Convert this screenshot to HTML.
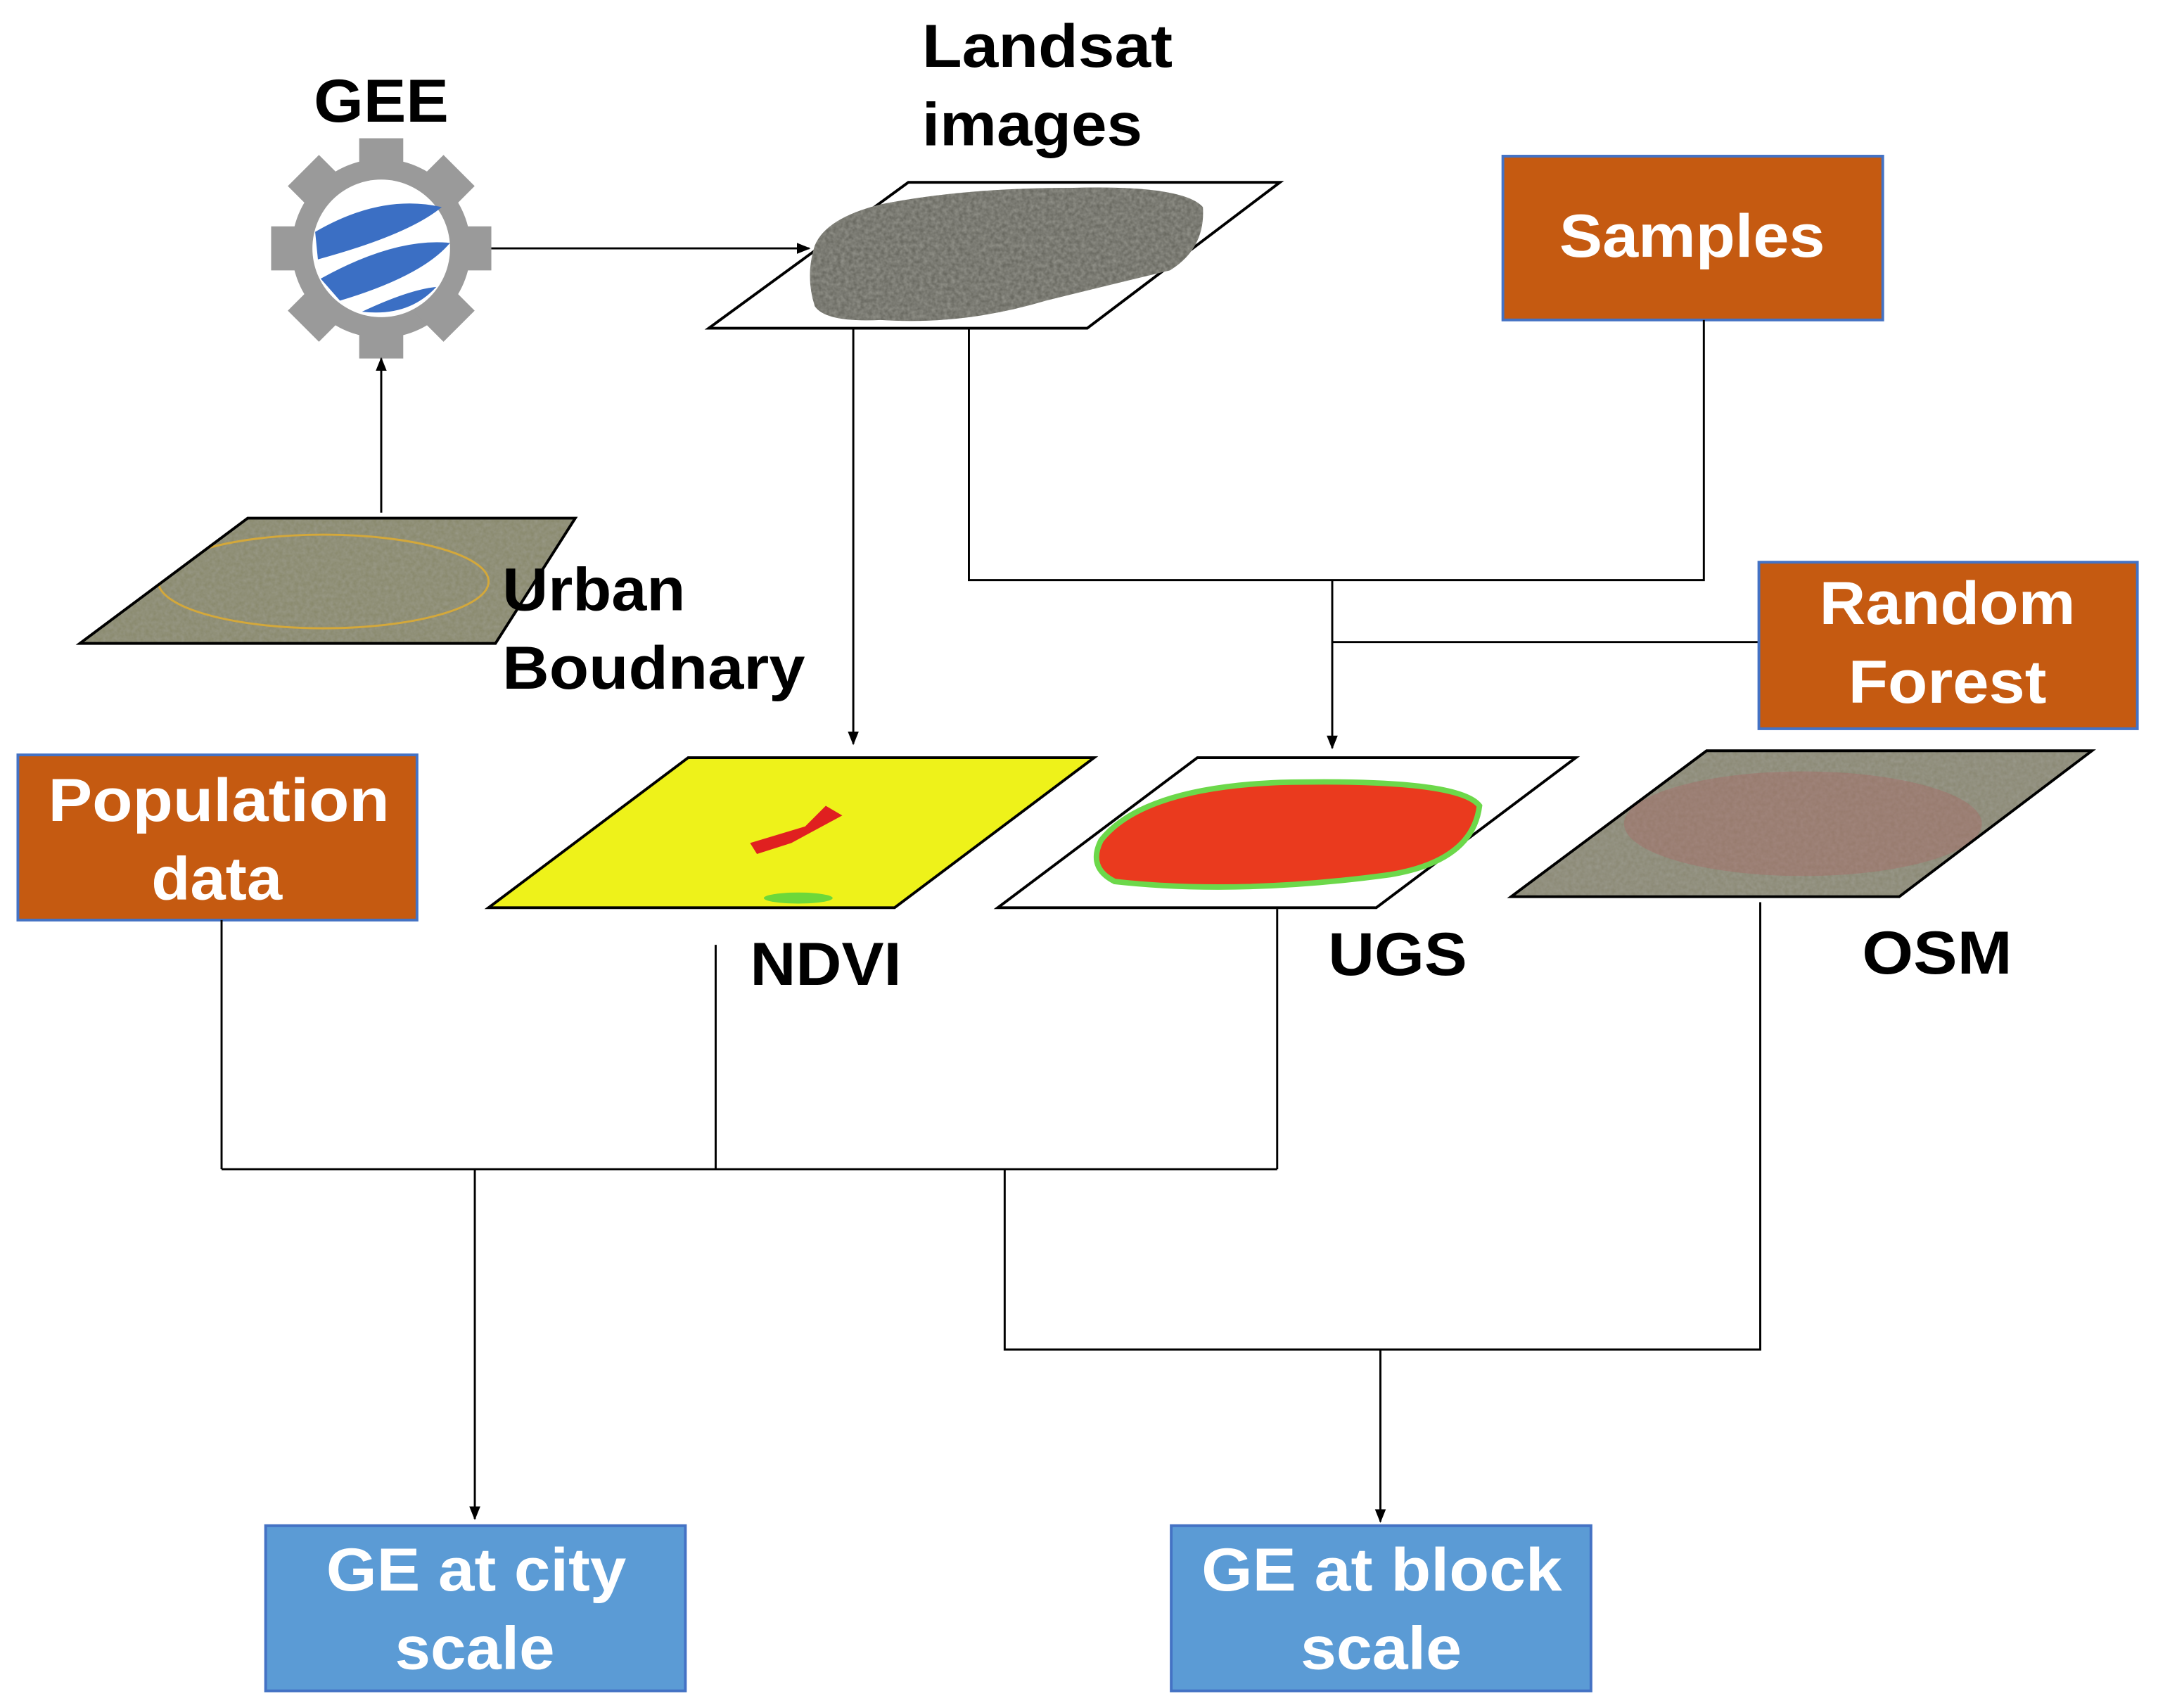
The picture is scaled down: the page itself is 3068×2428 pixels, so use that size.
<!DOCTYPE html>
<html><head><meta charset="utf-8"><style>
html,body{margin:0;padding:0;background:#fff;}
svg{display:block;}
text{font-family:"Liberation Sans",Arial,sans-serif;font-weight:bold;}
</style></head><body>
<svg width="3068" height="2428" viewBox="0 0 1568 1240" xmlns="http://www.w3.org/2000/svg">
<defs>
<marker id="ah" markerWidth="10" markerHeight="10" refX="9" refY="5" orient="auto" markerUnits="userSpaceOnUse">
<path d="M0,1 L10,5 L0,9 z" fill="#000"/></marker>
<filter id="noise" x="0" y="0" width="100%" height="100%">
<feTurbulence type="fractalNoise" baseFrequency="0.35" numOctaves="2" seed="3"/>
<feColorMatrix type="matrix" values="0 0 0 0 0.4  0 0 0 0 0.4  0 0 0 0 0.36  0 0 0 1.2 -0.2"/>
</filter>
<clipPath id="cUrb"><polygon points="58,467 360,467 418,376 180,376"/></clipPath>
<clipPath id="cOsm"><polygon points="1098,651 1380,651 1520,545 1240,545"/></clipPath>
<clipPath id="cLand"><path id="lb" d="M592,178 Q600,158 640,148 Q700,136 780,136 Q860,134 874,150 Q876,180 850,196 Q800,208 760,218 Q700,236 640,232 Q600,234 592,222 Q585,200 592,178 z"/></clipPath>
</defs>
<rect width="1568" height="1240" fill="#fff"/>

<!-- GEE -->
<text x="228" y="88" font-size="44" textLength="98" lengthAdjust="spacingAndGlyphs">GEE</text>
<g transform="translate(277,180)">
<g fill="#9a9a9a">
<circle r="65"/>
<rect x="-16" y="-80" width="32" height="30"/>
<rect x="-16" y="50" width="32" height="30"/>
<rect x="-80" y="-16" width="30" height="32"/>
<rect x="50" y="-16" width="30" height="32"/>
<rect x="-16" y="-80" width="32" height="30" transform="rotate(45)"/>
<rect x="-16" y="-80" width="32" height="30" transform="rotate(-45)"/>
<rect x="-16" y="-80" width="32" height="30" transform="rotate(135)"/>
<rect x="-16" y="-80" width="32" height="30" transform="rotate(-135)"/>
</g>
<circle r="50" fill="#fff"/>
<path d="M-48,-12 Q0,-40 44,-30 Q20,-10 -46,8 z" fill="#3b6fc4"/>
<path d="M-44,22 Q10,-8 50,-4 Q30,20 -30,38 z" fill="#3b6fc4"/>
<path d="M-14,46 Q20,30 40,28 Q20,50 -14,46 z" fill="#3b6fc4"/>
</g>
<line x1="357" y1="180" x2="588" y2="180" stroke="#000" stroke-width="1.5" marker-end="url(#ah)"/>

<!-- Landsat -->
<text x="670" y="48" font-size="44" textLength="182" lengthAdjust="spacingAndGlyphs">Landsat</text>
<text x="670" y="105" font-size="44" textLength="160" lengthAdjust="spacingAndGlyphs">images</text>
<polygon points="515,238 790,238 930,132 660,132" fill="#fff" stroke="#000" stroke-width="2"/>
<g clip-path="url(#cLand)">
<rect x="580" y="130" width="300" height="110" fill="#6a6a62"/>
<rect x="580" y="130" width="300" height="110" filter="url(#noise)" opacity="0.7"/>
</g>

<!-- Samples -->
<rect x="1092" y="113" width="276" height="119" fill="#c55a11" stroke="#4472c4" stroke-width="2"/>
<text x="1133" y="186" font-size="44" fill="#fff" textLength="193" lengthAdjust="spacingAndGlyphs">Samples</text>

<!-- Urban boundary -->
<polygon points="58,467 360,467 418,376 180,376" fill="#8a8a6e"/>
<g clip-path="url(#cUrb)"><rect x="50" y="370" width="380" height="100" filter="url(#noise)" opacity="0.5"/></g>
<ellipse cx="235" cy="422" rx="120" ry="34" fill="none" stroke="#d4a83a" stroke-width="1.5" clip-path="url(#cUrb)"/>
<polygon points="58,467 360,467 418,376 180,376" fill="none" stroke="#000" stroke-width="2"/>
<text x="365" y="443" font-size="44" textLength="133" lengthAdjust="spacingAndGlyphs">Urban</text>
<text x="365" y="500" font-size="44" textLength="220" lengthAdjust="spacingAndGlyphs">Boudnary</text>
<line x1="277" y1="372" x2="277" y2="260" stroke="#000" stroke-width="1.5" marker-end="url(#ah)"/>

<!-- connectors top -->
<line x1="620" y1="238" x2="620" y2="540" stroke="#000" stroke-width="1.5" marker-end="url(#ah)"/>
<polyline points="704,238 704,421 1238,421 1238,232" fill="none" stroke="#000" stroke-width="1.5"/>
<line x1="968" y1="421" x2="968" y2="543" stroke="#000" stroke-width="1.5" marker-end="url(#ah)"/>
<line x1="968" y1="466" x2="1278" y2="466" stroke="#000" stroke-width="1.5"/>

<!-- Random forest -->
<rect x="1278" y="408" width="275" height="121" fill="#c55a11" stroke="#4472c4" stroke-width="2"/>
<text x="1322" y="453" font-size="44" fill="#fff" textLength="186" lengthAdjust="spacingAndGlyphs">Random</text>
<text x="1343" y="510" font-size="44" fill="#fff" textLength="144" lengthAdjust="spacingAndGlyphs">Forest</text>

<!-- NDVI -->
<polygon points="355,659 650,659 795,550 500,550" fill="#eef21a" stroke="#000" stroke-width="2"/>
<path d="M545,612 L585,600 L600,585 L612,592 L575,612 L550,620 z" fill="#e02020"/>
<ellipse cx="580" cy="652" rx="25" ry="4" fill="#6dd83a"/>
<text x="545" y="715" font-size="44" textLength="110" lengthAdjust="spacingAndGlyphs">NDVI</text>

<!-- UGS -->
<polygon points="725,659 1000,659 1145,550 870,550" fill="#fff" stroke="#000" stroke-width="2"/>
<path d="M800,610 Q830,572 930,568 Q1060,565 1075,585 Q1070,625 1010,635 Q900,650 810,640 Q790,630 800,610 z" fill="#ea3a1e" stroke="#6cd84a" stroke-width="4"/>
<text x="965" y="708" font-size="44" textLength="101" lengthAdjust="spacingAndGlyphs">UGS</text>

<!-- OSM -->
<polygon points="1098,651 1380,651 1520,545 1240,545" fill="#8c8a76"/>
<g clip-path="url(#cOsm)"><rect x="1090" y="540" width="440" height="115" filter="url(#noise)" opacity="0.5"/>
<ellipse cx="1310" cy="598" rx="130" ry="38" fill="#b06060" opacity="0.35"/></g>
<polygon points="1098,651 1380,651 1520,545 1240,545" fill="none" stroke="#000" stroke-width="2"/>
<text x="1353" y="707" font-size="44" textLength="109" lengthAdjust="spacingAndGlyphs">OSM</text>

<!-- Population -->
<rect x="13" y="548" width="290" height="120" fill="#c55a11" stroke="#4472c4" stroke-width="2"/>
<text x="35" y="596" font-size="44" fill="#fff" textLength="248" lengthAdjust="spacingAndGlyphs">Population</text>
<text x="110" y="653" font-size="44" fill="#fff" textLength="95" lengthAdjust="spacingAndGlyphs">data</text>

<!-- bottom connectors -->
<g stroke="#000" stroke-width="1.5" fill="none">
<line x1="161" y1="668" x2="161" y2="849"/>
<line x1="520" y1="686" x2="520" y2="849"/>
<line x1="928" y1="660" x2="928" y2="849"/>
<line x1="161" y1="849" x2="928" y2="849"/>
<line x1="345" y1="849" x2="345" y2="1103" marker-end="url(#ah)"/>
<polyline points="730,849 730,980 1279,980 1279,655"/>
<line x1="1003" y1="980" x2="1003" y2="1105" marker-end="url(#ah)"/>
</g>

<!-- GE boxes -->
<rect x="193" y="1108" width="305" height="120" fill="#5b9bd5" stroke="#4472c4" stroke-width="2"/>
<text x="237" y="1155" font-size="44" fill="#fff" textLength="218" lengthAdjust="spacingAndGlyphs">GE at city</text>
<text x="287" y="1212" font-size="44" fill="#fff" textLength="116" lengthAdjust="spacingAndGlyphs">scale</text>
<rect x="851" y="1108" width="305" height="120" fill="#5b9bd5" stroke="#4472c4" stroke-width="2"/>
<text x="873" y="1155" font-size="44" fill="#fff" textLength="262" lengthAdjust="spacingAndGlyphs">GE at block</text>
<text x="945" y="1212" font-size="44" fill="#fff" textLength="117" lengthAdjust="spacingAndGlyphs">scale</text>
</svg>
</body></html>
